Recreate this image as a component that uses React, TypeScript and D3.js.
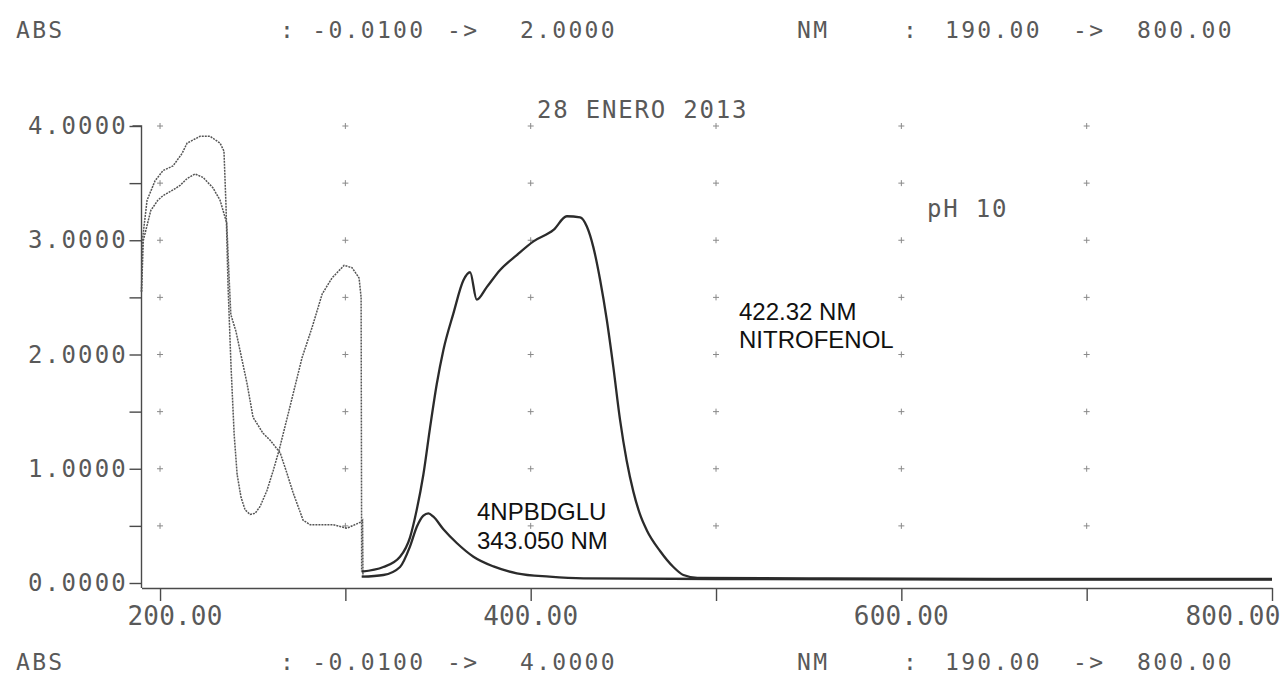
import React, { useEffect, useRef } from "react";
import * as d3 from "d3";

// spectrum traces (nm, absorbance)
const scanANm = [190, 190.5, 193, 197.3, 201.6, 207, 211.9, 214.6, 221.6, 227, 232.4, 234.5, 235.6, 236.7, 238.3, 240, 241.6, 243.7, 245.9, 248.6, 251.3, 254, 257.7, 261, 264.2, 269.6, 276.6, 282.1, 287.5, 292.8, 299.3, 303.6, 307.4, 308.5, 308.8];
const scanAAbs = [2.55, 3.0, 3.35, 3.52, 3.61, 3.65, 3.76, 3.85, 3.91, 3.91, 3.85, 3.78, 3.3, 2.6, 1.9, 1.3, 0.95, 0.75, 0.64, 0.6, 0.61, 0.67, 0.81, 0.98, 1.16, 1.51, 1.97, 2.24, 2.53, 2.67, 2.78, 2.76, 2.67, 2.5, 0.1];

const scanBNm = [190, 191, 195, 198.8, 201.6, 207, 210.8, 214.6, 218.9, 223.2, 228.5, 232.4, 236, 237.2, 238.2, 241, 246.9, 250.2, 255.6, 259.4, 264.8, 268.5, 271.8, 277.2, 281, 293.4, 300.9, 307.9, 309.3, 309.5];
const scanBAbs = [2.55, 3.0, 3.26, 3.35, 3.39, 3.44, 3.48, 3.54, 3.58, 3.55, 3.46, 3.35, 3.15, 2.7, 2.35, 2.2, 1.75, 1.45, 1.31, 1.25, 1.14, 0.96, 0.79, 0.55, 0.51, 0.51, 0.48, 0.53, 0.55, 0.06];

const nitroNm = [308.8, 320.5, 329.5, 334.9, 338.5, 342.1, 345.7, 349.3, 352.9, 358.3, 363.7, 367.3, 370.9, 376.3, 383.5, 392.5, 401.5, 412.3, 419.5, 426.7, 430.3, 433.8, 437.5, 441.1, 444.6, 448.2, 451.8, 455.4, 459, 462.7, 469.8, 477, 482.4, 490, 550, 650, 800];
const nitroAbs = [0.10, 0.14, 0.23, 0.40, 0.64, 0.95, 1.36, 1.74, 2.04, 2.36, 2.65, 2.72, 2.48, 2.59, 2.74, 2.87, 2.99, 3.09, 3.21, 3.20, 3.12, 2.94, 2.65, 2.30, 1.89, 1.43, 1.07, 0.80, 0.60, 0.46, 0.28, 0.14, 0.07, 0.045, 0.04, 0.035, 0.035];

const gluNm = [308.8, 320.5, 329.5, 334.9, 338.5, 342.1, 344.8, 347.5, 352.9, 360.1, 369.1, 379.9, 392.5, 410.1, 428.5, 500, 650, 800];
const gluAbs = [0.055, 0.07, 0.14, 0.32, 0.49, 0.59, 0.61, 0.58, 0.47, 0.35, 0.23, 0.145, 0.085, 0.055, 0.04, 0.035, 0.03, 0.03];

const xTicks = [200, 300, 400, 500, 600, 700, 800];
const xLabels = [200, 400, 600, 800];
const yTicks = [0, 0.5, 1, 1.5, 2, 2.5, 3, 3.5, 4];
const yLabels = [0, 1, 2, 3, 4];
const gridNm = [200, 300, 400, 500, 600, 700];
const gridAbs = [0.5, 1, 1.5, 2, 2.5, 3, 3.5, 4];

const W = 1288, H = 695;
const mono = "'DejaVu Sans Mono', 'Liberation Mono', monospace";
const sans = "'Liberation Sans', Arial, sans-serif";
const ink = "#595959";

function App() {
    const ref = useRef<SVGSVGElement>(null);

    useEffect(() => {
        const svg = d3.select(ref.current);
        svg.selectAll("*").remove();

        const x = d3.scaleLinear().domain([190, 800]).range([141.5, 1272]);
        const y = d3.scaleLinear().domain([0, 4]).range([583, 126]);
        const axisY = 588;

        // header lines (printer settings)
        const header = (base: number, top: string) => {
            const g = svg.append("g")
                .style("font-family", mono).style("font-size", "23px")
                .style("letter-spacing", "2.3px").attr("fill", ink);
            const parts: [number, string][] = [
                [16, "ABS"], [280, ": -0.0100"], [447, "->"], [520, top],
                [797, "NM"], [903, ":"], [945, "190.00"], [1073, "->"], [1137, "800.00"]
            ];
            parts.forEach(([px, t]) => {
                g.append("text").attr("x", px).attr("y", base).text(t);
            });
        };
        header(38, "2.0000");
        header(670, "4.0000");

        svg.append("text")
            .attr("x", 537).attr("y", 118)
            .style("font-family", mono).style("font-size", "24px")
            .style("letter-spacing", "1.8px").attr("fill", ink)
            .text("28 ENERO 2013");

        svg.append("text")
            .attr("x", 927).attr("y", 217)
            .style("font-family", mono).style("font-size", "24px")
            .style("letter-spacing", "1.8px").attr("fill", ink)
            .text("pH 10");

        // grid crosses
        const grid = svg.append("g").attr("stroke", "#8a8a8a").attr("stroke-width", 1);
        gridNm.forEach(nm => {
            gridAbs.forEach(a => {
                const cx = x(nm), cy = y(a);
                grid.append("line").attr("x1", cx - 3).attr("x2", cx + 3).attr("y1", cy).attr("y2", cy);
                grid.append("line").attr("x1", cx).attr("x2", cx).attr("y1", cy - 3).attr("y2", cy + 3);
            });
        });

        // y axis
        const gy = svg.append("g")
            .attr("transform", "translate(" + x(190) + ",0)")
            .call(d3.axisLeft(y).tickValues(yTicks).tickSize(12).tickSizeOuter(9).tickFormat(() => ""));
        gy.selectAll("path, line").attr("stroke", "#4a4a4a").attr("stroke-width", 1.4);
        gy.select(".domain").attr("d", "M-9," + y(4) + "H0V" + axisY);

        svg.append("g")
            .style("font-family", mono).style("font-size", "24px")
            .style("letter-spacing", "2.2px").attr("fill", ink)
            .selectAll("text").data(yLabels).enter().append("text")
            .attr("x", 128).attr("y", d => y(d) + 8)
            .attr("text-anchor", "end")
            .text(d => d3.format(".4f")(d));

        // x axis
        const gx = svg.append("g")
            .attr("transform", "translate(0," + axisY + ")")
            .call(d3.axisBottom(x).tickValues(xTicks).tickSize(13).tickSizeOuter(0).tickFormat(() => ""));
        gx.selectAll("path, line").attr("stroke", "#4a4a4a").attr("stroke-width", 1.4);

        svg.append("g")
            .style("font-family", mono).style("font-size", "26px")
            .style("letter-spacing", "0.2px").attr("fill", ink)
            .selectAll("text").data(xLabels).enter().append("text")
            .attr("x", d => Math.min(Math.max(x(d), 175), 1233))
            .attr("y", 625)
            .attr("text-anchor", "middle")
            .text(d => d3.format(".2f")(d));

        const pairs = (a: number[], b: number[]) => a.map((v, i) => [v, b[i]] as [number, number]);

        // thin dotted scans
        const thin = d3.line<[number, number]>()
            .x(d => x(d[0])).y(d => y(d[1]));
        [pairs(scanANm, scanAAbs), pairs(scanBNm, scanBAbs)].forEach(s => {
            svg.append("path").datum(s)
                .attr("d", thin)
                .attr("fill", "none")
                .attr("stroke", "#555")
                .attr("stroke-width", 1.5)
                .attr("stroke-dasharray", "2 1");
        });

        // heavy scans
        const heavy = d3.line<[number, number]>()
            .x(d => x(d[0])).y(d => y(d[1]))
            .curve(d3.curveMonotoneX);
        [pairs(nitroNm, nitroAbs), pairs(gluNm, gluAbs)].forEach(s => {
            svg.append("path").datum(s)
                .attr("d", heavy)
                .attr("fill", "none")
                .attr("stroke", "#2b2b2b")
                .attr("stroke-width", 2.3)
                .attr("stroke-linejoin", "round");
        });

        // added notes
        const note = svg.append("g")
            .style("font-family", sans).style("font-size", "24px").attr("fill", "#111");
        note.append("text").attr("x", 739).attr("y", 320).text("422.32 NM");
        note.append("text").attr("x", 739).attr("y", 348).text("NITROFENOL");
        note.append("text").attr("x", 477).attr("y", 520).text("4NPBDGLU");
        note.append("text").attr("x", 477).attr("y", 549).text("343.050 NM");
    }, []);

    return (
        <svg ref={ref} width={W} height={H}
            style={{ position: "absolute", left: 0, top: 0, background: "#fff" }} />
    );
}

export default App;
